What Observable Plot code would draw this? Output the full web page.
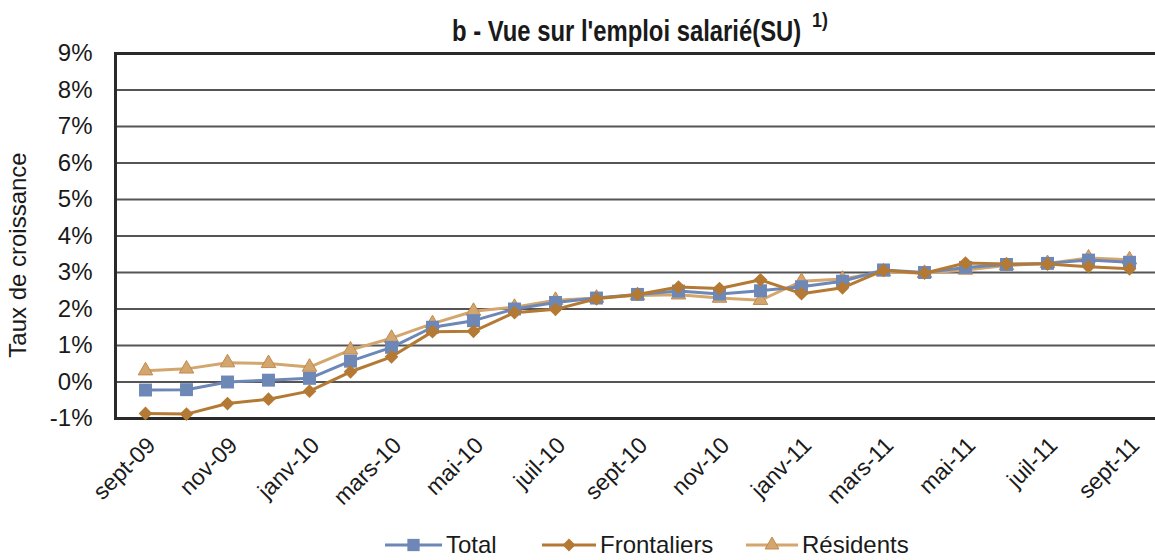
<!DOCTYPE html>
<html>
<head>
<meta charset="utf-8">
<script src="https://cdn.jsdelivr.net/npm/d3@7"></script>
<script src="https://cdn.jsdelivr.net/npm/@observablehq/plot@0.6"></script>
<style>
  html, body { margin: 0; padding: 0; background: #fff; overflow: hidden; }
  body { width: 1155px; height: 560px; position: relative; font-family: "Liberation Sans", Arial, sans-serif; color: #1a1a1a; }
  #chart { position: absolute; left: 0; top: 0; width: 1162px; }
  #chart svg { max-width: none !important; }
  .title { position: absolute; left: 452px; top: 17px; font-weight: bold; font-size: 29px; line-height: 29px; white-space: nowrap; transform: scaleX(0.822); transform-origin: 0 0; }
  .sup { position: absolute; left: 812px; top: 9px; font-weight: bold; font-size: 21px; line-height: 21px; white-space: nowrap; transform: scaleX(0.85); transform-origin: 0 0; }
  .leg { position: absolute; top: 531px; height: 28px; display: flex; align-items: center; font-size: 24px; white-space: nowrap; }
  .leg svg { display: block; }
</style>
</head>
<body>
<div id="chart"></div>
<div class="title">b - Vue sur l'emploi salarié(SU)</div>
<div class="sup">1)</div>
<div id="legend"></div>
<script>
const months = ["sept-09","oct-09","nov-09","déc-09","janv-10","févr-10","mars-10","avr-10","mai-10","juin-10","juil-10","août-10","sept-10","oct-10","nov-10","déc-10","janv-11","févr-11","mars-11","avr-11","mai-11","juin-11","juil-11","août-11","sept-11"];
const tickLabels = ["sept-09","nov-09","janv-10","mars-10","mai-10","juil-10","sept-10","nov-10","janv-11","mars-11","mai-11","juil-11","sept-11"];
const yTicks = [-1,0,1,2,3,4,5,6,7,8,9];
const total = [-0.22,-0.21,0.0,0.05,0.10,0.57,0.95,1.50,1.68,2.00,2.18,2.30,2.40,2.49,2.41,2.50,2.61,2.76,3.07,3.00,3.14,3.22,3.25,3.34,3.28];
const frontaliers = [-0.86,-0.88,-0.59,-0.47,-0.25,0.28,0.69,1.38,1.39,1.90,1.99,2.28,2.40,2.60,2.56,2.80,2.42,2.58,3.06,2.98,3.26,3.23,3.23,3.16,3.10];
const residents = [0.31,0.36,0.53,0.51,0.41,0.88,1.20,1.60,1.94,2.05,2.24,2.30,2.37,2.39,2.30,2.24,2.76,2.82,3.02,2.98,3.07,3.19,3.25,3.40,3.35];
const seriesNames = ["Total","Frontaliers","Résidents"];
const colors = {"Total":"#6d87b6","Frontaliers":"#b47a34","Résidents":"#d3a66e"};
const symbols = {"Total":"square","Frontaliers":"diamond2","Résidents":"triangle"};
const radii = {"Total":7.3,"Frontaliers":6.2,"Résidents":5.4};

const rows = (name, vals) => months.map((m, i) => ({month: m, value: vals[i], series: name}));
const dTotal = rows("Total", total), dFront = rows("Frontaliers", frontaliers), dRes = rows("Résidents", residents);

function seriesMarks(data, name) {
  return [
    Plot.line(data, {x: "month", y: "value", stroke: colors[name], strokeWidth: 3}),
    Plot.dot(data, {x: "month", y: "value", symbol: symbols[name], r: radii[name], fill: colors[name],
      stroke: name === "Résidents" ? "#c08a4e" : "none", strokeWidth: 1})
  ];
}

const chart = Plot.plot({
  width: 1162, height: 520,
  marginTop: 53, marginBottom: 102, marginLeft: 115, marginRight: 4,
  style: {fontFamily: "'Liberation Sans', Arial, sans-serif", fontSize: "24px", color: "#1a1a1a", background: "#fff", maxWidth: "none"},
  x: {type: "point", domain: months, padding: 0, range: [136, 1137], axis: null},
  y: {domain: [-1, 9], axis: null},
  marks: [
    Plot.ruleY(yTicks, {stroke: "#555", strokeWidth: 1.8}),
    Plot.axisY({ticks: yTicks, tickSize: 0, tickPadding: 23, tickFormat: d => `${d}%`, label: null, fontSize: 24}),
    Plot.text(tickLabels, {x: d => d, y: () => -1, text: d => d, rotate: -45, textAnchor: "end", lineAnchor: "middle", dx: 6, dy: 23, fontSize: 23, fill: "#1a1a1a"}),
    Plot.text(["Taux de croissance"], {frameAnchor: "left", text: d => d, rotate: -90, textAnchor: "middle", dx: -97, dy: 19, fontSize: 24, fill: "#1a1a1a"}),
    Plot.frame({stroke: "#2a2a2a", strokeWidth: 3}),
    ...seriesMarks(dRes, "Résidents"),
    ...seriesMarks(dTotal, "Total"),
    ...seriesMarks(dFront, "Frontaliers")
  ]
});
document.getElementById("chart").appendChild(chart);

// Legend
const legendPos = {"Total": [385, 446], "Frontaliers": [542, 600], "Résidents": [746, 802]};
const legend = document.getElementById("legend");
for (const name of seriesNames) {
  const [sx, tx] = legendPos[name];
  const item = document.createElement("div");
  item.className = "leg";
  item.style.left = sx + "px";
  const sym = d3.symbol().type(name === "Total" ? d3.symbolSquare : name === "Frontaliers" ? d3.symbolDiamond2 : d3.symbolTriangle)
    .size(Math.PI * radii[name] * radii[name] * 0.9)();
  const w = tx - sx - 4;
  item.innerHTML = `<svg width="${w}" height="28"><line x1="0" x2="${w}" y1="14" y2="14" stroke="${colors[name]}" stroke-width="3"/><path d="${sym}" transform="translate(${(w/2).toFixed(1)},14)" fill="${colors[name]}" ${name === "Résidents" ? 'stroke="#c08a4e" stroke-width="1"' : ''}/></svg><span style="margin-left:4px">${name}</span>`;
  legend.appendChild(item);
}
</script>
</body>
</html>
